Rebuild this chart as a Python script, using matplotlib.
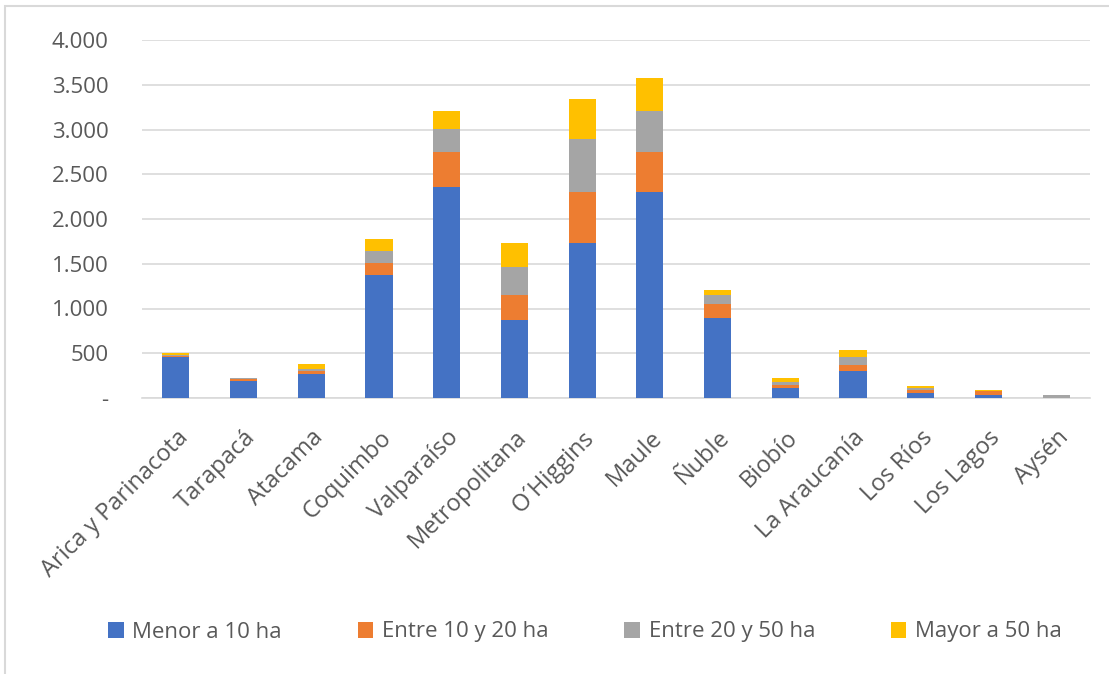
import matplotlib
matplotlib.use("Agg")
from matplotlib import pyplot as plt
from matplotlib.patches import Rectangle
import numpy as np

regiones = ["Arica y Parinacota", "Tarapacá", "Atacama", "Coquimbo", "Valparaíso",
            "Metropolitana", "O´Higgins", "Maule", "Ñuble", "Biobío", "La Araucanía",
            "Los Ríos", "Los Lagos", "Aysén"]

menor_10 = [455, 195, 270, 1378, 2354, 869, 1730, 2303, 891, 110, 297, 60, 35, 3]
entre_10_20 = [15, 20, 35, 130, 390, 286, 573, 441, 160, 40, 74, 30, 40, 2]
entre_20_50 = [5, 3, 20, 136, 261, 312, 594, 465, 104, 30, 82, 25, 5, 28]
mayor_50 = [30, 3, 50, 132, 207, 268, 442, 364, 52, 45, 82, 20, 10, 2]

series = [("Menor a 10 ha", menor_10, "#4472C4"),
          ("Entre 10 y 20 ha", entre_10_20, "#ED7D31"),
          ("Entre 20 y 50 ha", entre_20_50, "#A5A5A5"),
          ("Mayor a 50 ha", mayor_50, "#FFC000")]

etiquetas_y = ["-", "500", "1.000", "1.500", "2.000", "2.500", "3.000", "3.500", "4.000"]

plt.rcParams["font.family"] = ["Open Sans", "DejaVu Sans"]
gris = "#595959"

fig = plt.figure(figsize=(11.09, 6.74), dpi=100)
ax = fig.add_axes([142/1109, 1-398/674, 948/1109, 358/674])

x = np.arange(len(regiones))
base = np.zeros(len(regiones))
for nombre, valores, color in series:
    ax.bar(x, valores, bottom=base, width=0.4, color=color, label=nombre, zorder=3)
    base += np.array(valores)

ax.set_xlim(-0.5, len(regiones) - 0.5)
ax.set_ylim(0, 4000)
ax.set_yticks(np.arange(0, 4001, 500))
ax.set_yticklabels(etiquetas_y)
ax.yaxis.grid(True, color="#D9D9D9", linewidth=1.2, zorder=0)
ax.tick_params(axis="y", length=0, pad=24, labelsize=16, labelcolor=gris)
ax.set_xticks(x)
ax.set_xticklabels(regiones, rotation=45, ha="right", rotation_mode="anchor")
ax.tick_params(axis="x", length=0, pad=20, labelsize=17, labelcolor=gris)
for lado in ["top", "right", "left"]:
    ax.spines[lado].set_visible(False)
ax.spines["bottom"].set_color("#D9D9D9")
ax.spines["bottom"].set_linewidth(1.2)

fig.legend(loc="center", bbox_to_anchor=(585/1109, 1-632/674), ncol=4, frameon=False,
           fontsize=16, labelcolor=gris, handlelength=0.7, handleheight=0.7,
           handletextpad=0.4, columnspacing=3.4)

fig.patches.append(Rectangle((5/1109, -0.01), 1.0, 1-6/674+0.01, transform=fig.transFigure,
                             fill=False, edgecolor="#D9D9D9", linewidth=1.5))

fig.savefig("out.png", dpi=100)
